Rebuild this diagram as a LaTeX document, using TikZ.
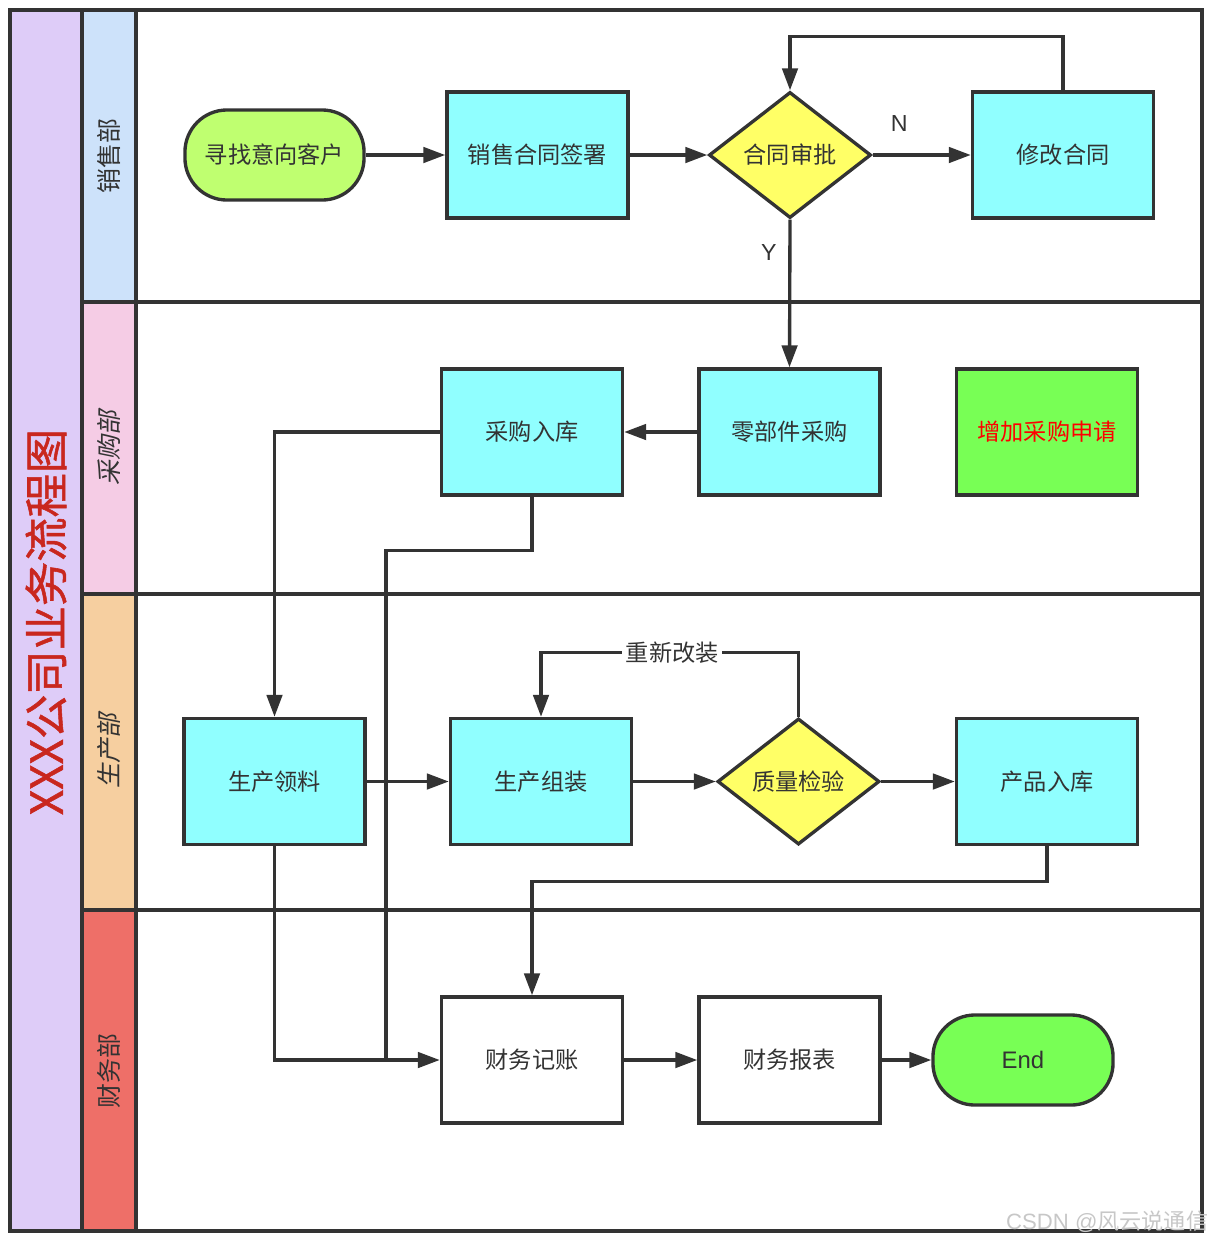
\documentclass[tikz,border=0pt]{standalone}
\usepackage{fontspec}
\setmainfont{Noto Sans CJK SC}
\newfontfamily\lat{Liberation Sans}
\newfontfamily\cjkslant[FakeSlant=0.2]{Noto Sans CJK SC}
\newfontfamily\titlefont[FakeBold=1.2]{Noto Sans CJK SC}
\usetikzlibrary{shapes.geometric,arrows.meta}
\definecolor{ink}{HTML}{333333}
\definecolor{lav}{HTML}{DECCF8}
\definecolor{salesbg}{HTML}{CDE2FA}
\definecolor{buybg}{HTML}{F5CCE5}
\definecolor{prodbg}{HTML}{F6CFA0}
\definecolor{finbg}{HTML}{EE6F68}
\definecolor{cyanbox}{HTML}{90FFFF}
\definecolor{yel}{HTML}{FFFF66}
\definecolor{startgreen}{HTML}{BFFF70}
\definecolor{brightgreen}{HTML}{78FF55}
\definecolor{titlered}{HTML}{C9271E}
\tikzset{
  frame/.style={draw=ink,line width=0.95pt},
  proc/.style={draw=ink,line width=0.95pt,fill=cyanbox,minimum width=1.81cm,minimum height=1.26cm,inner sep=0pt,font=\fontsize{6.6pt}{8pt}\selectfont,text=ink},
  decision/.style={diamond,draw=ink,line width=0.95pt,fill=yel,minimum width=1.62cm,minimum height=1.26cm,inner sep=0pt,font=\fontsize{6.6pt}{8pt}\selectfont,text=ink},
  terminal/.style={draw=ink,line width=0.95pt,rounded corners=0.42cm,minimum width=1.8cm,minimum height=0.9cm,inner sep=0pt,font=\fontsize{6.6pt}{8pt}\selectfont,text=ink},
  arr/.style={draw=ink,line width=0.95pt,-{Triangle[length=0.22cm,width=0.155cm]}},
  conn/.style={draw=ink,line width=0.95pt},
  lanelabel/.style={rotate=90,font=\fontsize{7.1pt}{8pt}\selectfont,text=ink},
  edgelabel/.style={font=\lat\fontsize{6.6pt}{7pt}\selectfont,text=ink}
}
\begin{document}
\begin{tikzpicture}[x=0.01cm,y=-0.01cm]
\useasboundingbox (0,0) rectangle (1212,1242);
% lanes
\fill[lav] (10,10) rectangle (82,1231);
\fill[salesbg] (82,10) rectangle (136,302);
\fill[buybg] (82,302) rectangle (136,594);
\fill[prodbg] (82,594) rectangle (136,910);
\fill[finbg] (82,910) rectangle (136,1231);
\draw[frame] (10,10) rectangle (1202,1231);
\draw[frame] (82,10) -- (82,1231);
\draw[frame] (136,10) -- (136,1231);
\draw[frame] (82,302) -- (1202,302);
\draw[frame] (82,594) -- (1202,594);
\draw[frame] (82,910) -- (1202,910);
\node[rotate=90,text=titlered,font=\titlefont\fontsize{12.6pt}{14pt}\selectfont] (title) at (46,622) {XXX公司业务流程图};
\node[lanelabel] (l1) at (109,156) {销售部};
\node[lanelabel,font=\cjkslant\fontsize{7.1pt}{8pt}\selectfont] (l2) at (109,448) {采购部};
\node[lanelabel,font=\cjkslant\fontsize{7.1pt}{8pt}\selectfont] (l3) at (109,751) {生产部};
\node[lanelabel] (l4) at (109,1071) {财务部};
% nodes
\node[terminal,fill=startgreen,minimum width=1.79cm] (start) at (274.5,155) {寻找意向客户};
\node[proc] (sign) at (537.5,155) {销售合同签署};
\node[decision] (audit) at (790,155) {合同审批};
\node[proc] (modify) at (1063,155) {修改合同};
\node[proc] (partbuy) at (789.5,432) {零部件采购};
\node[proc,fill=brightgreen,text=red] (addreq) at (1047,432) {增加采购申请};
\node[proc] (instock) at (532,432) {采购入库};
\node[proc] (pick) at (274.5,781.5) {生产领料};
\node[proc] (asm) at (541,781.5) {生产组装};
\node[decision] (qc) at (798.5,781.5) {质量检验};
\node[proc] (pstore) at (1047,781.5) {产品入库};
\node[proc,fill=white] (rec) at (532,1060) {财务记账};
\node[proc,fill=white] (rep) at (789.5,1060) {财务报表};
\node[terminal,fill=brightgreen,font=\lat\fontsize{6.8pt}{8pt}\selectfont] (end) at (1023,1060) {End};
\coordinate (j) at (386,1060);
% connectors
\draw[arr] (start) -- (sign);
\draw[arr] (sign) -- (audit);
\draw[arr] (audit) -- node[edgelabel,pos=0.27,above=0.1cm] {N} (modify);
\draw[arr] (modify.north) -- ++(0,-54) -| (audit.north);
\draw[arr] (audit.south) -- node[edgelabel,pos=0.22,left=0.0cm] {Y} (partbuy.north);
\draw[arr] (partbuy) -- (instock);
\draw[arr] (instock.west) -| (pick.north);
\draw[conn] (instock.south) -- ++(0,54) -| (j);
\draw[conn] (pick.south) |- (j);
\draw[arr] (j) -- (rec.west);
\draw[arr] (pick) -- (asm);
\draw[arr] (asm) -- (qc);
\draw[arr] (qc) -- (pstore);
\draw[arr] (qc.north) -- ++(0,-64) -| node[pos=0.245,fill=white,inner sep=1pt,font=\fontsize{6.6pt}{8pt}\selectfont,text=ink] {重新改装} (asm.north);
\draw[arr] (pstore.south) -- ++(0,35) -| (rec.north);
\draw[arr] (rec) -- (rep);
\draw[arr] (rep) -- (end);
\node[anchor=east,text=black!22,font=\fontsize{6.3pt}{7pt}\selectfont,inner sep=0pt] (wm) at (1209,1222) {{\lat CSDN @}风云说通信};
\end{tikzpicture}
\end{document}
